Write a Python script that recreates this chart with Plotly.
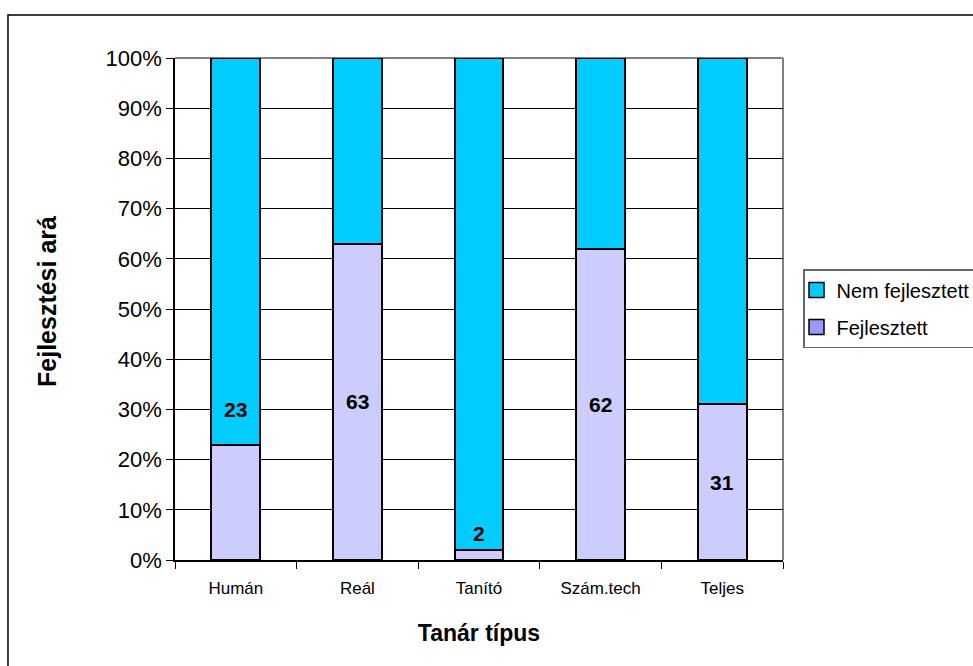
import plotly.graph_objects as go

# Teacher groups and share of developed / not developed (percent)
categories = ["Humán", "Reál", "Tanító", "Szám.tech", "Teljes"]
fejlesztett = [23, 63, 2, 62, 31]
nem_fejlesztett = [77, 37, 98, 38, 69]
# height (percent) at which each value label sits
label_y = [30, 31.5, 5.2, 31, 15.5]

y_ticks = list(range(0, 101, 10))
y_tick_text = [f"{v}%" for v in y_ticks]

FONT = "Arial, 'Liberation Sans', sans-serif"
C_NEM = "#00CCFF"
C_FEJ = "#CCCCFF"
C_FEJ_KEY = "#9999FF"

fig = go.Figure()

fig.add_trace(go.Bar(
    x=categories, y=fejlesztett, name="Fejlesztett",
    marker=dict(color=C_FEJ, line=dict(color="black", width=2)),
    width=0.4, showlegend=False,
))
fig.add_trace(go.Bar(
    x=categories, y=nem_fejlesztett, name="Nem fejlesztett",
    marker=dict(color=C_NEM, line=dict(color="black", width=2)),
    width=0.4, showlegend=False,
))

# legend keys
fig.add_trace(go.Scatter(
    x=[None], y=[None], mode="markers", name="Nem fejlesztett",
    legendgroup="a",
    marker=dict(symbol="square", size=15, color=C_NEM,
                line=dict(color="black", width=1.5)),
))
fig.add_trace(go.Scatter(
    x=[None], y=[None], mode="markers", name="Fejlesztett",
    legendgroup="b",
    marker=dict(symbol="square", size=15, color=C_FEJ_KEY,
                line=dict(color="black", width=1.5)),
))

# value labels
for cat, val, ly in zip(categories, fejlesztett, label_y):
    fig.add_annotation(
        x=cat, y=ly, text=str(val), showarrow=False,
        font=dict(family=FONT, size=21, color="black", weight="bold"),
    )

# y-axis title (rotated)
fig.add_annotation(
    xref="paper", yref="paper", x=-0.2105, y=0.514,
    xanchor="center", yanchor="middle",
    text="Fejlesztési ará", textangle=-90, showarrow=False,
    font=dict(family=FONT, size=25, color="black", weight="bold"),
)

# gray top and right border of the plot area
fig.add_shape(type="line", xref="paper", yref="paper", x0=0, x1=1, y0=1, y1=1,
              line=dict(color="#808080", width=2), layer="between")
fig.add_shape(type="line", xref="paper", yref="paper", x0=1, x1=1, y0=0, y1=1,
              line=dict(color="#808080", width=2), layer="between")

# outer chart frame
fig.add_shape(type="rect", xref="paper", yref="paper",
              x0=-0.2747, x1=2.0, y0=-1.0, y1=1.0857,
              line=dict(color="black", width=1.5), fillcolor="rgba(0,0,0,0)",
              layer="above")

fig.update_layout(
    width=973, height=666,
    margin=dict(l=175, r=190, t=58, b=106, autoexpand=False),
    paper_bgcolor="white", plot_bgcolor="white",
    barmode="stack", bargap=0.6,
    font=dict(family=FONT, color="black"),
    legend=dict(
        x=1.0329, y=0.4223, xanchor="left", yanchor="bottom",
        bordercolor="#666666", borderwidth=1.5, bgcolor="white",
        font=dict(family=FONT, size=20, color="black"),
        traceorder="grouped", tracegroupgap=8, indentation=-8,
    ),
    xaxis=dict(
        showline=True, linecolor="black", linewidth=1.5,
        ticks="outside", ticklen=7, tickcolor="black", tickson="boundaries",
        ticklabelstandoff=12,
        tickfont=dict(family=FONT, size=17, color="black"),
        title=dict(text="Tanár típus", standoff=28,
                   font=dict(family=FONT, size=23, color="black", weight="bold")),
        showgrid=False,
    ),
    yaxis=dict(
        range=[0, 100], tickvals=y_ticks, ticktext=y_tick_text,
        showline=True, linecolor="black", linewidth=1.5,
        ticks="outside", ticklen=7, tickcolor="black",
        tickfont=dict(family=FONT, size=22, color="black"),
        showgrid=True, gridcolor="black", gridwidth=1,
        zeroline=False,
    ),
)

fig.write_html("out.html")
